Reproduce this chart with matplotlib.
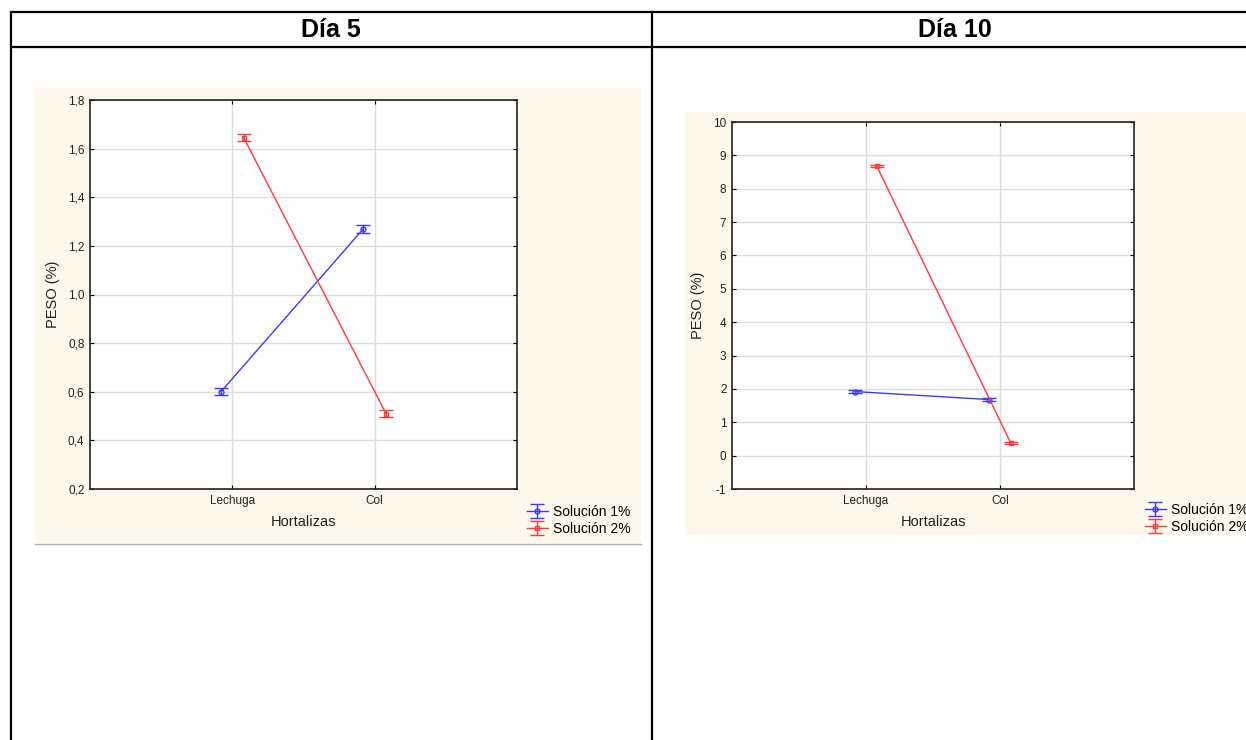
import matplotlib.pyplot as plt
import matplotlib.patches as mpatches
from matplotlib.lines import Line2D
from matplotlib.ticker import FuncFormatter, MultipleLocator
import numpy as np

plt.rcParams['font.family'] = ['Liberation Sans', 'DejaVu Sans']
plt.rcParams['axes.unicode_minus'] = False

# datos
hortalizas = ['Lechuga', 'Col']
series = ['Solución 1%', 'Solución 2%']
dias = ['Día 5', 'Día 10']

dia5_sol1 = [0.60, 1.27]
dia5_sol2 = [1.645, 0.51]
dia5_err1 = [0.015, 0.015]
dia5_err2 = [0.015, 0.015]

dia10_sol1 = [1.92, 1.68]
dia10_sol2 = [8.68, 0.38]
dia10_err1 = [0.04, 0.04]
dia10_err2 = [0.04, 0.04]

W, H = 1246, 740
fig = plt.figure(figsize=(W / 100, H / 100), dpi=100)


def fx(px):
    return px / W


def fy(py):
    return 1 - py / H


def line(x0, y0, x1, y1, color='black', lw=1.6):
    fig.add_artist(Line2D([fx(x0), fx(x1)], [fy(y0), fy(y1)],
                          transform=fig.transFigure, color=color, lw=lw))


def panel(x0, y0, x1, y1):
    fig.add_artist(mpatches.Rectangle((fx(x0), fy(y1)), fx(x1 - x0), (y1 - y0) / H,
                                      transform=fig.transFigure,
                                      facecolor='#fdf8ec', edgecolor='none', zorder=0))


# tabla
line(11, 12, W, 12)
line(11, 47, W, 47)
line(11, 12, 11, H)
line(652, 12, 652, H)
fig.text(fx(331), fy(30), dias[0], ha='center', va='center', fontsize=18, fontweight='bold')
fig.text(fx(955), fy(30), dias[1], ha='center', va='center', fontsize=18, fontweight='bold')

# fondos
panel(35, 88, 641, 543)
line(35, 544, 641, 544, color='#b0b0b0', lw=1)
panel(685, 112, W, 535)

coma = FuncFormatter(lambda v, pos: f"{v:.1f}".replace('.', ','))


def grafico(box, s1, s2, e1, e2, ylim, step, fmt, leg_xy):
    x0, y0, x1, y1 = box
    ax = fig.add_axes([fx(x0), fy(y1), fx(x1 - x0), (y1 - y0) / H])
    ax.set_facecolor('white')
    pos = np.arange(1, len(hortalizas) + 1)
    h1 = ax.errorbar(pos - 0.08, s1, yerr=e1, color='#3b3bff', lw=1, marker='o',
                     ms=3.5, mfc='none', mew=1, capsize=5, capthick=1, label=series[0])
    h2 = ax.errorbar(pos + 0.08, s2, yerr=e2, color='#ff3b3b', lw=1, marker='s',
                     ms=3.5, mfc='none', mew=1, capsize=5, capthick=1, label=series[1])
    ax.set_xlim(0, 3)
    ax.set_ylim(*ylim)
    ax.set_xticks(pos)
    ax.set_xticklabels(hortalizas)
    ax.yaxis.set_major_locator(MultipleLocator(step))
    if fmt is not None:
        ax.yaxis.set_major_formatter(fmt)
    ax.grid(True, color='#dcdcdc', lw=1)
    ax.set_axisbelow(True)
    ax.tick_params(direction='in', length=3, top=True, right=True,
                   labelsize=8.5, labelcolor='#222222', pad=4)
    for s in ax.spines.values():
        s.set_color('#222222')
        s.set_linewidth(1.2)
    ax.set_xlabel('Hortalizas', fontsize=10.5, labelpad=6, color='#222222')
    ax.set_ylabel('PESO (%)', fontsize=10.5, labelpad=6, color='#222222')
    fig.legend(handles=[h1, h2], loc='upper left',
               bbox_to_anchor=(fx(leg_xy[0]), fy(leg_xy[1])), frameon=False,
               fontsize=10, handlelength=1.5, handletextpad=0.4,
               borderpad=0, borderaxespad=0, labelspacing=0.2)
    return ax


grafico((90, 100, 517, 489), dia5_sol1, dia5_sol2, dia5_err1, dia5_err2,
        (0.2, 1.8), 0.2, coma, (527, 505))
grafico((732, 122, 1134, 489), dia10_sol1, dia10_sol2, dia10_err1, dia10_err2,
        (-1, 10), 1, None, (1145, 503))

fig.savefig('out.png', dpi=100)
